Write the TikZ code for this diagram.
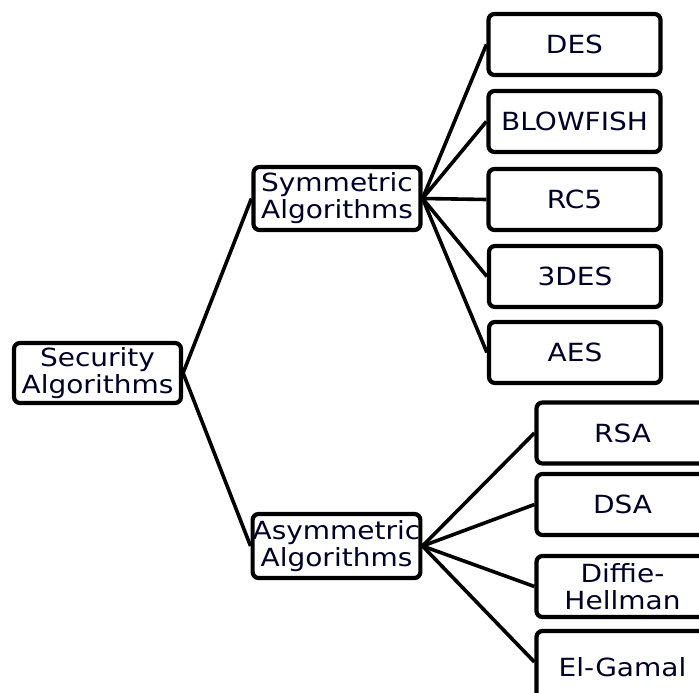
\documentclass[tikz,border=0pt]{standalone}
\usepackage{fontspec}
\setmainfont{DejaVu Sans}[FakeStretch=1.12]
\begin{document}
\begin{tikzpicture}[x=1pt,y=-1pt,
  box/.style={draw=black, line width=4.2pt, rounded corners=6pt, fill=white,
    align=center, inner sep=0pt, font=\fontsize{25}{27}\selectfont,
    text=black!85!blue},
  leafA/.style={box, minimum width=172pt, minimum height=61pt},
  leafB/.style={box, minimum width=172pt, minimum height=61pt},
  link/.style={line width=3.6pt, black}]
\useasboundingbox (0,0) rectangle (699,693);
% root and the two families
\node[box, minimum width=167pt, minimum height=60pt] (sec) at (97.5,373) {Security\\Algorithms};
\node[box, minimum width=167pt, minimum height=63pt] (sym) at (337,198.5) {Symmetric\\Algorithms};
\node[box, minimum width=167pt, minimum height=64pt] (asym) at (336.5,546) {Asymmetric\\Algorithms};
% symmetric ciphers
\node[leafA] (des) at (574.5,44.5) {DES};
\node[leafA] (blow) at (574.5,121.5) {BLOWFISH};
\node[leafA] (rc5) at (574.5,199.5) {RC5};
\node[leafA] (tdes) at (575,276.5) {3DES};
\node[leafA] (aes) at (575,352.5) {AES};
% asymmetric ciphers
\node[leafB] (rsa) at (622.5,433) {RSA};
\node[leafB] (dsa) at (622.5,504.5) {DSA};
\node[leafB] (dh) at (622.5,586.5) {Diffie-\\Hellman};
\node[leafB, minimum height=72pt] (elg) at (622.5,667) {El-Gamal};
% connectors
\draw[link] (sec.east) -- (sym.west);
\draw[link] (sec.east) -- (asym.west);
\foreach \t in {des,blow,rc5,tdes,aes}
  \draw[link] (sym.east) -- (\t.west);
\foreach \t in {rsa,dsa,dh}
  \draw[link] (asym.east) -- (\t.west);
\draw[link] (asym.east) -- ([yshift=5pt]elg.west);
\end{tikzpicture}
\end{document}
